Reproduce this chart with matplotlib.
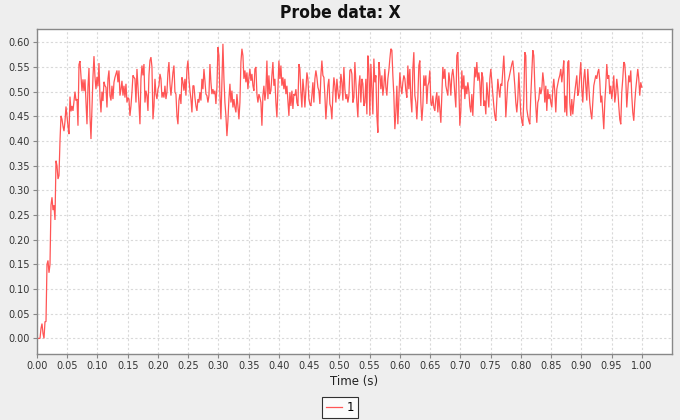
import numpy as np
import matplotlib
matplotlib.use("Agg")
import matplotlib.pyplot as plt

# ---- data ----
series_name = "1"
rise_vals = [0, 0, 0, 0, 0.02, 0.03, 0.01, 0.0, 0.034, 0.034,
             0.15, 0.158, 0.133, 0.15, 0.27, 0.286, 0.26, 0.27, 0.24, 0.36,
             0.35, 0.323, 0.33, 0.40, 0.451, 0.444, 0.43, 0.42, 0.44, 0.47,
             0.45, 0.43, 0.414, 0.49, 0.46, 0.471, 0.461, 0.48, 0.50, 0.482,
             0.485, 0.431, 0.555, 0.562, 0.53, 0.501, 0.525, 0.501, 0.525, 0.48,
             0.434, 0.51, 0.548, 0.45, 0.404, 0.47, 0.53, 0.572, 0.53, 0.505,
             0.53, 0.511, 0.558, 0.49, 0.458, 0.50, 0.481, 0.52]
seg2_vals = [0.512, 0.509, 0.468, 0.526, 0.543, 0.492, 0.482, 0.512, 0.485, 0.519,
             0.529, 0.536, 0.543, 0.519, 0.543, 0.492, 0.505, 0.522, 0.492, 0.512,
             0.488, 0.516, 0.478, 0.488, 0.485, 0.451, 0.471, 0.499, 0.533, 0.529,
             0.526, 0.478, 0.546, 0.512, 0.475, 0.434, 0.526, 0.553, 0.533, 0.556,
             0.478, 0.502, 0.492, 0.461, 0.533, 0.563, 0.570, 0.550, 0.444, 0.471,
             0.526, 0.495, 0.485, 0.505, 0.512, 0.536, 0.526, 0.488, 0.499, 0.488,
             0.512, 0.485, 0.499, 0.539, 0.560, 0.516, 0.492, 0.516, 0.539, 0.553,
             0.499, 0.495, 0.451, 0.434, 0.482]
seg3_vals = [0.495, 0.475, 0.529, 0.519, 0.502, 0.526, 0.492, 0.546, 0.563, 0.526,
             0.502, 0.485, 0.458, 0.512, 0.512, 0.488, 0.471, 0.461, 0.485, 0.478,
             0.499, 0.482, 0.526, 0.505, 0.546, 0.522, 0.495, 0.492, 0.478, 0.492,
             0.556, 0.519, 0.495, 0.505, 0.495, 0.502, 0.475, 0.509, 0.590, 0.573,
             0.492, 0.444, 0.519, 0.597, 0.526, 0.478, 0.451, 0.410, 0.441, 0.485,
             0.516, 0.478, 0.502, 0.468, 0.485, 0.468, 0.458, 0.495, 0.471, 0.444,
             0.478, 0.560, 0.587, 0.573, 0.526, 0.543, 0.519, 0.539, 0.505, 0.529,
             0.546, 0.522, 0.536, 0.512, 0.502]
seg4_vals = [0.546, 0.550, 0.495, 0.478, 0.495, 0.488, 0.478, 0.431, 0.492, 0.512,
             0.482, 0.502, 0.563, 0.485, 0.533, 0.495, 0.502, 0.533, 0.560, 0.512,
             0.526, 0.478, 0.448, 0.505, 0.563, 0.526, 0.553, 0.512, 0.529, 0.505,
             0.526, 0.495, 0.512, 0.482, 0.451, 0.499, 0.471, 0.502, 0.465, 0.495,
             0.492, 0.505, 0.478, 0.471, 0.556, 0.546, 0.499, 0.468, 0.526, 0.502,
             0.468, 0.502, 0.539, 0.526, 0.485, 0.475, 0.471, 0.492, 0.519, 0.478,
             0.526, 0.543, 0.529, 0.509, 0.502, 0.475, 0.533, 0.563, 0.533, 0.529,
             0.492, 0.444, 0.478, 0.512, 0.526]
seg5_vals = [0.475, 0.468, 0.444, 0.495, 0.529, 0.512, 0.478, 0.526, 0.502, 0.485,
             0.495, 0.536, 0.519, 0.482, 0.550, 0.505, 0.485, 0.495, 0.478, 0.492,
             0.543, 0.546, 0.536, 0.478, 0.488, 0.560, 0.519, 0.478, 0.448, 0.512,
             0.533, 0.478, 0.526, 0.516, 0.471, 0.478, 0.526, 0.454, 0.573, 0.546,
             0.451, 0.556, 0.505, 0.454, 0.567, 0.519, 0.533, 0.451, 0.417, 0.560,
             0.539, 0.505, 0.533, 0.492, 0.512, 0.546, 0.509, 0.492, 0.526, 0.543,
             0.567, 0.587, 0.584, 0.533, 0.492, 0.424, 0.458, 0.512, 0.434, 0.488,
             0.539, 0.512, 0.495, 0.519, 0.533]
seg6_vals = [0.526, 0.502, 0.488, 0.553, 0.505, 0.546, 0.485, 0.458, 0.546, 0.580,
             0.492, 0.478, 0.444, 0.488, 0.553, 0.563, 0.478, 0.441, 0.471, 0.533,
             0.512, 0.533, 0.475, 0.512, 0.519, 0.543, 0.478, 0.471, 0.492, 0.468,
             0.461, 0.485, 0.499, 0.458, 0.492, 0.465, 0.437, 0.495, 0.550, 0.526,
             0.546, 0.512, 0.502, 0.492, 0.539, 0.522, 0.492, 0.533, 0.546, 0.526,
             0.495, 0.468, 0.573, 0.580, 0.512, 0.431, 0.461, 0.543, 0.505, 0.533,
             0.485, 0.512, 0.495, 0.519, 0.502, 0.471, 0.458, 0.495, 0.451, 0.505,
             0.550, 0.529, 0.560, 0.522, 0.539]
seg7_vals = [0.519, 0.471, 0.539, 0.529, 0.471, 0.482, 0.454, 0.519, 0.492, 0.468,
             0.526, 0.546, 0.519, 0.495, 0.471, 0.451, 0.441, 0.485, 0.526, 0.505,
             0.488, 0.516, 0.512, 0.543, 0.573, 0.526, 0.448, 0.485, 0.519, 0.526,
             0.536, 0.546, 0.556, 0.563, 0.539, 0.512, 0.478, 0.458, 0.485, 0.539,
             0.495, 0.454, 0.441, 0.431, 0.485, 0.580, 0.573, 0.465, 0.451, 0.441,
             0.434, 0.492, 0.539, 0.584, 0.573, 0.512, 0.471, 0.437, 0.478, 0.485,
             0.509, 0.495, 0.505, 0.539, 0.519, 0.478, 0.512, 0.461, 0.505, 0.485,
             0.495, 0.478, 0.468, 0.505, 0.526]
seg8_vals = [0.499, 0.458, 0.505, 0.516, 0.526, 0.533, 0.546, 0.519, 0.539, 0.563,
             0.458, 0.492, 0.451, 0.560, 0.563, 0.478, 0.451, 0.485, 0.454, 0.478,
             0.499, 0.516, 0.533, 0.492, 0.499, 0.533, 0.560, 0.505, 0.478, 0.526,
             0.546, 0.512, 0.482, 0.546, 0.512, 0.478, 0.458, 0.444, 0.478, 0.512,
             0.522, 0.533, 0.526, 0.539, 0.546, 0.522, 0.478, 0.492, 0.458, 0.424,
             0.478, 0.512, 0.556, 0.526, 0.533, 0.495, 0.512, 0.485, 0.505, 0.533,
             0.478, 0.495, 0.526, 0.505, 0.471, 0.444, 0.434, 0.499, 0.526, 0.560,
             0.556, 0.526, 0.468, 0.499, 0.533, 0.519, 0.543, 0.492, 0.458, 0.441,
             0.478, 0.505, 0.526, 0.546, 0.526, 0.492, 0.519, 0.509]

probe_x = (rise_vals + seg2_vals + seg3_vals + seg4_vals + seg5_vals
           + seg6_vals + seg7_vals + seg8_vals)
t_start, t_end = 0.0, 1.0
time_s = np.linspace(t_start, t_end, len(probe_x))

x_ticks = np.round(np.arange(0, 1.0001, 0.05), 2)
y_ticks = np.round(np.arange(0, 0.6001, 0.05), 2)

# ---- style ----
W, H = 680, 420
fig = plt.figure(figsize=(W / 100, H / 100), dpi=100, facecolor="#eeeeee")
ax = fig.add_axes([37 / W, 1 - 353.7 / H, (672 - 37) / W, (353.7 - 29) / H])
ax.set_facecolor("white")

ax.plot(time_s, probe_x, color="#ff5555", lw=0.9, label=series_name,
        solid_joinstyle="miter")

ax.set_xlim(0, 1.050)
ax.set_ylim(-0.031, 0.627)
ax.set_xticks(x_ticks)
ax.set_yticks(y_ticks)
ax.set_xticklabels([f"{v:.2f}" for v in x_ticks])
ax.set_yticklabels([f"{v:.2f}" for v in y_ticks])

ax.grid(True, color="#d9d9d9", lw=0.8, linestyle=(0, (2, 2)))
ax.set_axisbelow(True)
for s in ax.spines.values():
    s.set_color("#888888")
    s.set_linewidth(1.0)
ax.tick_params(direction="out", length=3, width=0.8, color="#888888",
               labelsize=7, pad=2, labelcolor="#333333")

ax.set_xlabel("Time (s)", fontsize=8.5, labelpad=3, color="#222222")
fig.text(0.5, 1 - 13 / H, "Probe data: X", ha="center", va="center",
         fontsize=12.5, fontweight="bold", fontstretch="condensed",
         color="#111111")

leg = fig.legend(loc="lower center", bbox_to_anchor=(0.5, 2 / H),
                 frameon=True, fancybox=False, fontsize=8.5,
                 handlelength=1.3, handletextpad=0.4, borderpad=0.35,
                 borderaxespad=0)
leg.get_frame().set_edgecolor("black")
leg.get_frame().set_linewidth(0.8)

fig.savefig("out.png", dpi=100, facecolor=fig.get_facecolor())
